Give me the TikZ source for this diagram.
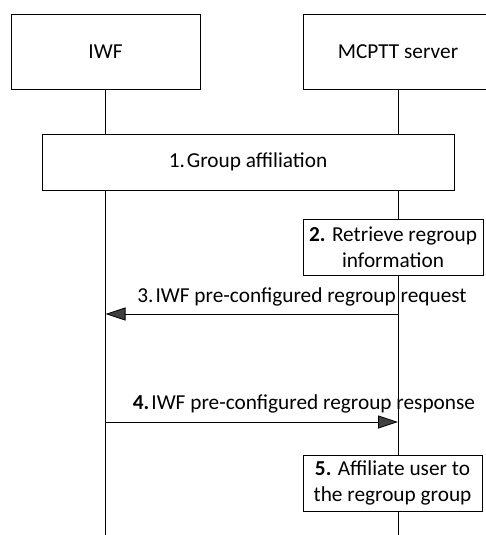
\documentclass[tikz,border=0pt]{standalone}
\usepackage{fontspec}
\setmainfont{Carlito}
\usepackage{tikz}
\usetikzlibrary{arrows.meta,positioning}

\begin{document}
\begin{tikzpicture}[
  x=1pt, y=-1pt,
  font=\fontsize{21.3}{26}\selectfont,
  entity/.style={draw, line width=0.8pt, fill=white, align=center, inner sep=0pt},
  stepbox/.style={draw, line width=0.8pt, fill=white, align=center, inner sep=0pt, minimum height=56pt},
  life/.style={line width=0.8pt},
  msg/.style={line width=0.8pt, -{Triangle[length=20pt, width=13pt, fill=black!75]}}
]
\useasboundingbox (0,0) rectangle (486,535);
% actors
\node[entity, minimum width=189pt, minimum height=75pt] (iwf) at (105.5,51.5) {IWF};
\node[entity, minimum width=190pt, minimum height=75pt] (mcptt) at (398,51.5) {MCPTT server};
\coordinate (iwfend) at (105.5,535);
\coordinate (mcpttend) at (398,535);
\draw[life] (iwf) -- (iwfend);
\draw[life] (mcptt) -- (mcpttend);
% steps
\node[stepbox, minimum width=412pt] (aff) at (248,162) {1.\kern2pt Group affiliation};
\node[stepbox, minimum width=180pt] (retrieve) at (393,247) {\textbf{2.} Retrieve regroup\\information};
\node[stepbox, minimum width=179pt] (affuser) at (392.5,483) {\textbf{5.} Affiliate user to\\the regroup group};
% messages
\coordinate (req-s) at (398,314);
\coordinate (req-e) at (105.5,314);
\coordinate (resp-s) at (105.5,422);
\coordinate (resp-e) at (398,422);
\draw[msg] (req-s) -- (req-e);
\draw[msg] (resp-s) -- (resp-e);
\node (reqlbl) at (302,297) {3.\kern2pt IWF pre-configured regroup request};
\node (resplbl) at (304,404) {\textbf{4.}\kern2pt IWF pre-configured regroup response};
\end{tikzpicture}
\end{document}
